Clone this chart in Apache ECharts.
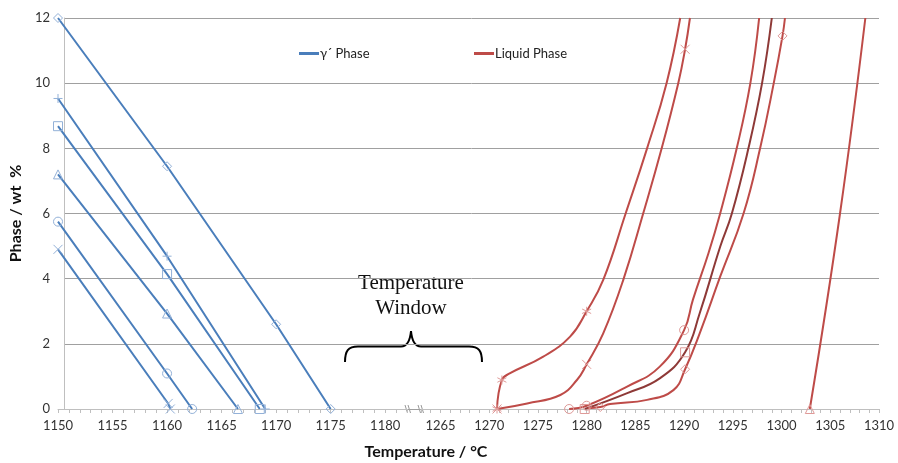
<!DOCTYPE html>
<html>
<head>
<meta charset="utf-8">
<script src="https://cdn.jsdelivr.net/npm/echarts@6/dist/echarts.min.js"></script>
<style>
  html, body { margin: 0; padding: 0; background: #ffffff; }
  #chart { width: 898px; height: 463px; }
</style>
</head>
<body>
<div id="chart"></div>
<script>
// Tick labels on the broken temperature axis (°C) and on the phase axis (wt %)
const lowTicks = [1150, 1155, 1160, 1165, 1170, 1175, 1180];
const highTicks = [1265, 1270, 1275, 1280, 1285, 1290, 1295, 1300, 1305, 1310];
const phaseTicks = [0, 2, 4, 6, 8, 10, 12];

// γ´ phase fraction vs temperature, one array per alloy: [T (°C), wt %]
const gammaDiamond  = [[1150, 12.0], [1160, 7.45], [1170, 2.6], [1175.0, 0]];
const gammaPlus     = [[1150, 9.53], [1160, 4.69], [1169.0, 0]];
const gammaSquare   = [[1150, 8.68], [1160, 4.14], [1168.5, 0]];
const gammaTriangle = [[1150, 7.2],  [1160, 2.93], [1166.5, 0]];
const gammaCircle   = [[1150, 5.75], [1160, 1.09], [1162.3, 0]];
const gammaCross    = [[1150, 4.9],  [1160.1, 0.17], [1160.3, 0]];

// Liquid phase fraction: marked calculation points and the traced smoothed curve
const liqStarMarks  = [[1270.8, 0], [1271.3, 0.89], [1280.0, 3.0]];
const liqStarTrace  = [[1272.1, 1.09], [1275.5, 1.6], [1278.3, 2.22], [1281.7, 3.96],
                       [1284.0, 6.0], [1286.2, 8.0], [1288.2, 10.0], [1289.6, 12.0]];
const liqCrossMarks = [[1270.8, 0], [1280.0, 1.37], [1290.1, 11.04]];
const liqCrossTrace = [[1273.9, 0.17], [1277.3, 0.43], [1279.0, 0.89], [1281.7, 2.32],
                       [1283.8, 4.0], [1285.8, 6.0], [1287.7, 8.0], [1289.4, 10.0], [1290.6, 12.0]];
const liqCircleMarks = [[1278.2, 0], [1280.0, 0.1], [1290.0, 2.42]];
const liqCircleTrace = [[1284.1, 0.68], [1287.5, 1.3], [1290.9, 3.35], [1292.5, 4.78],
                        [1293.7, 6.0], [1295.4, 8.0], [1296.8, 10.0], [1297.7, 12.0]];
const liqSquareMarks = [[1279.8, 0], [1290.1, 1.74]];
const liqSquareTrace = [[1284.1, 0.48], [1287.5, 0.94], [1291.6, 2.94], [1293.7, 4.98],
                        [1294.9, 6.0], [1296.6, 8.0], [1298.0, 10.0], [1299.0, 12.0]];
const liqDiamondMarks = [[1281.4, 0.06], [1290.1, 1.22], [1300.1, 11.45]];
const liqDiamondTrace = [[1280.1, 0.02], [1282.4, 0.15], [1286.2, 0.28], [1288.9, 0.58],
                         [1291.6, 2.32], [1293.7, 4.06], [1296.1, 6.0], [1297.8, 8.0],
                         [1299.2, 10.0], [1300.35, 12.0]];
const liqTriangleMarks = [[1302.9, 0]];
const liqTriangleTrace = [[1306.0, 6.0], [1308.6, 12.0]];

const BLUE = '#4a7ebb', BLUE_MARK = '#93b1d8';
const RED = '#be4b48', RED_DARK = '#8e3937', RED_MARK = '#df9a98';
const GAMMA = 'γ´ Phase', LIQUID = 'Liquid Phase';
const FONT = 'Lato, "Open Sans", sans-serif';

const SYM = {
  plus: 'path://M5,0L5,10M0,5L10,5',
  cross: 'path://M0,0L10,10M10,0L0,10',
  star: 'path://M5,0L5,10M0.7,2.5L9.3,7.5M0.7,7.5L9.3,2.5'
};

function gammaSeries(points, symbol) {
  return {
    type: 'line', name: GAMMA, xAxisIndex: 1, yAxisIndex: 1,
    data: points, symbol: symbol, symbolSize: 9, smooth: false,
    lineStyle: { color: BLUE, width: 2 },
    itemStyle: { color: 'rgba(255,255,255,0)', borderColor: BLUE_MARK, borderWidth: 1 },
    animation: false, silent: true
  };
}

function liquidSeries(marks, trace, symbol, lineColor) {
  const items = marks.map(p => ({ value: p }))
    .concat(trace.map(p => ({ value: p, symbol: 'none' })))
    .sort((a, b) => a.value[0] - b.value[0]);
  return {
    type: 'line', name: LIQUID, xAxisIndex: 2, yAxisIndex: 2,
    data: items, symbol: symbol, symbolSize: 9,
    smooth: 0.45,
    lineStyle: { color: lineColor, width: 2 },
    itemStyle: { color: 'rgba(255,255,255,0)', borderColor: RED_MARK, borderWidth: 1 },
    animation: false, silent: true
  };
}

const tickLabel = list => v => (list.indexOf(Math.round(v)) >= 0 ? String(Math.round(v)) : '');

function tempAxis(gridIndex, min, max, list) {
  return {
    type: 'value', gridIndex: gridIndex, min: min, max: max, interval: 1,
    axisLine: { show: true, lineStyle: { color: '#bfbfbf', width: 1 } },
    axisTick: { show: true, length: 4, lineStyle: { color: '#bfbfbf' } },
    axisLabel: { formatter: tickLabel(list), color: '#333', fontSize: 13, fontFamily: FONT, margin: 10 },
    splitLine: { show: false }
  };
}

const ink = { stroke: '#000', lineWidth: 2, fill: 'none' };
const breakInk = { stroke: '#999', lineWidth: 1 };

const chart = echarts.init(document.getElementById('chart'), null, { renderer: 'canvas' });

chart.setOption({
  animation: false,
  backgroundColor: '#ffffff',
  grid: [
    { left: 58, right: 19, top: 18, bottom: 54 },
    { left: 58, width: 349, top: 18, bottom: 54 },
    { left: 421, right: 19, top: 18, bottom: 54 }
  ],
  xAxis: [
    { type: 'value', gridIndex: 0, min: 0, max: 1, show: false },
    tempAxis(1, 1150, 1182, lowTicks),
    tempAxis(2, 1263, 1310, highTicks)
  ],
  yAxis: [
    {
      type: 'value', gridIndex: 0, min: phaseTicks[0], max: phaseTicks[phaseTicks.length - 1], interval: 2,
      name: 'Phase / wt  %', nameLocation: 'middle', nameGap: 36, nameRotate: 90,
      nameTextStyle: { fontSize: 16, fontWeight: 'bold', color: '#111', fontFamily: FONT },
      axisLine: { show: true, lineStyle: { color: '#bfbfbf' } },
      axisTick: { show: false },
      axisLabel: { color: '#333', fontSize: 13, fontFamily: FONT, margin: 14 },
      splitLine: { show: true, lineStyle: { color: '#a0a0a0', width: 1 } }
    },
    { type: 'value', gridIndex: 1, min: 0, max: 12, show: false },
    { type: 'value', gridIndex: 2, min: 0, max: 12, show: false }
  ],
  legend: [
    {
      left: 294, top: 42, itemWidth: 20, itemHeight: 3, itemGap: 10,
      data: [{ name: GAMMA, icon: 'rect', itemStyle: { color: BLUE, borderWidth: 0 } }],
      textStyle: { fontSize: 13, color: '#222', fontFamily: FONT, padding: [0, 0, 0, -4] },
      selectedMode: false
    },
    {
      left: 469, top: 42, itemWidth: 20, itemHeight: 3, itemGap: 10,
      data: [{ name: LIQUID, icon: 'rect', itemStyle: { color: RED, borderWidth: 0 } }],
      textStyle: { fontSize: 13, color: '#222', fontFamily: FONT, padding: [0, 0, 0, -4] },
      selectedMode: false
    }
  ],
  series: [
    gammaSeries(gammaDiamond, 'diamond'),
    gammaSeries(gammaPlus, SYM.plus),
    gammaSeries(gammaSquare, 'rect'),
    gammaSeries(gammaTriangle, 'triangle'),
    gammaSeries(gammaCircle, 'circle'),
    gammaSeries(gammaCross, SYM.cross),
    liquidSeries(liqStarMarks, liqStarTrace, SYM.star, RED),
    liquidSeries(liqCrossMarks, liqCrossTrace, SYM.cross, RED),
    liquidSeries(liqCircleMarks, liqCircleTrace, 'circle', RED),
    liquidSeries(liqSquareMarks, liqSquareTrace, 'rect', RED_DARK),
    liquidSeries(liqDiamondMarks, liqDiamondTrace, 'diamond', RED),
    liquidSeries(liqTriangleMarks, liqTriangleTrace, 'triangle', RED)
  ],
  graphic: [
    // axis line across the break, with the break marks
    { type: 'line', silent: true, shape: { x1: 407, y1: 409.5, x2: 421, y2: 409.5 }, style: { stroke: '#bfbfbf', lineWidth: 1 } },
    { type: 'line', silent: true, shape: { x1: 405, y1: 405, x2: 407.5, y2: 413 }, style: breakInk },
    { type: 'line', silent: true, shape: { x1: 408, y1: 405, x2: 410.5, y2: 413 }, style: breakInk },
    { type: 'line', silent: true, shape: { x1: 418, y1: 405, x2: 420.5, y2: 413 }, style: breakInk },
    { type: 'line', silent: true, shape: { x1: 421, y1: 405, x2: 423.5, y2: 413 }, style: breakInk },
    // curly brace over the temperature window
    { type: 'bezierCurve', silent: true, shape: { x1: 345, y1: 362, cpx1: 345, cpy1: 351, cpx2: 348, cpy2: 346.5, x2: 358, y2: 346.5 }, style: ink },
    { type: 'line', silent: true, shape: { x1: 358, y1: 346.5, x2: 401, y2: 346.5 }, style: ink },
    { type: 'bezierCurve', silent: true, shape: { x1: 401, y1: 346.5, cpx1: 407, cpy1: 346.5, cpx2: 410, cpy2: 342, x2: 411, y2: 331 }, style: ink },
    { type: 'bezierCurve', silent: true, shape: { x1: 411, y1: 331, cpx1: 412, cpy1: 342, cpx2: 415, cpy2: 346.5, x2: 421, y2: 346.5 }, style: ink },
    { type: 'line', silent: true, shape: { x1: 421, y1: 346.5, x2: 469, y2: 346.5 }, style: ink },
    { type: 'bezierCurve', silent: true, shape: { x1: 469, y1: 346.5, cpx1: 479, cpy1: 346.5, cpx2: 482, cpy2: 351, x2: 482, y2: 362 }, style: ink },
    {
      type: 'text', silent: true, x: 411, y: 271,
      style: { text: 'Temperature\nWindow', textAlign: 'center', fill: '#111',
               font: '21px "Liberation Serif", "DejaVu Serif", serif', lineHeight: 25 }
    },
    {
      type: 'text', silent: true, x: 426, y: 444,
      style: { text: 'Temperature / °C', textAlign: 'center', fill: '#111',
               font: 'bold 16px ' + FONT }
    }
  ]
});
</script>
</body>
</html>
